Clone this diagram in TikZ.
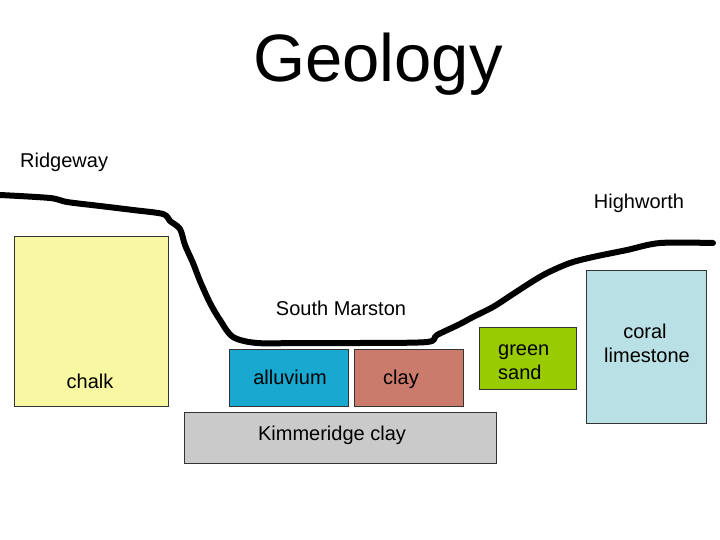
\documentclass[tikz,border=0pt]{standalone}
\usepackage{fontspec}
\setmainfont{Liberation Sans}
\definecolor{chalkc}{HTML}{F8F8A2}
\definecolor{alluc}{HTML}{18A8D0}
\definecolor{clayc}{HTML}{CB7B6C}
\definecolor{kimc}{HTML}{CACACA}
\definecolor{greenc}{HTML}{99CC00}
\definecolor{coralc}{HTML}{B9E0E4}
\begin{document}
\begin{tikzpicture}[x=1pt,y=-1pt,
  layer/.style={draw=black!80,line width=0.8pt},
  lbl/.style={font=\fontsize{20}{24}\selectfont,inner sep=0pt,anchor=base}]
\useasboundingbox (0,0) rectangle (720,540);
\fill[white] (0,0) rectangle (720,540);
% boxes
\filldraw[layer,fill=chalkc] (14,236) rectangle (168,406);
\filldraw[layer,fill=alluc] (229,349) rectangle (348,406);
\filldraw[layer,fill=clayc] (354,349) rectangle (463,406);
\filldraw[layer,fill=kimc] (184,412) rectangle (496,463);
\filldraw[layer,fill=greenc] (479,327) rectangle (576,389);
\filldraw[layer,fill=coralc] (586,270) rectangle (706,423);
% labels
\node[font=\fontsize{67}{80}\selectfont,inner sep=0pt,anchor=base] (title) at (378,82) {Geology};
\node[lbl,anchor=base west] (ridge) at (20,168) {Ridgeway};
\node[lbl] (high) at (639,208) {Highworth};
\node[lbl] (sm) at (341,315) {South Marston};
\node[lbl] (chalk) at (90,388) {chalk};
\node[lbl] (allu) at (290,384) {alluvium};
\node[lbl] (clay) at (401,384) {clay};
\node[lbl] (kim) at (332,440) {Kimmeridge clay};
\node[lbl,anchor=base west] (green) at (498,355) {green};
\node[lbl,anchor=base west] (sand) at (498,379) {sand};
\node[lbl] (coral) at (645,338) {coral};
\node[lbl] (lime) at (647,362) {limestone};
% ground surface
\draw[line width=6pt,line join=round,line cap=round]
  plot[smooth,tension=0.5] coordinates {
  (0,195) (50,198) (67,202) (100,206) (133,210) (163,214) (170,221) (180,229)
  (185,245) (193,263) (200,281) (210,303) (220,320) (233,337) (257,343)
  (300,343) (360,343) (427,342) (437,335) (460,324) (473,317) (493,307)
  (510,296) (530,283) (547,273) (570,263) (593,257) (627,250) (660,243) (713,243)};
\end{tikzpicture}
\end{document}
